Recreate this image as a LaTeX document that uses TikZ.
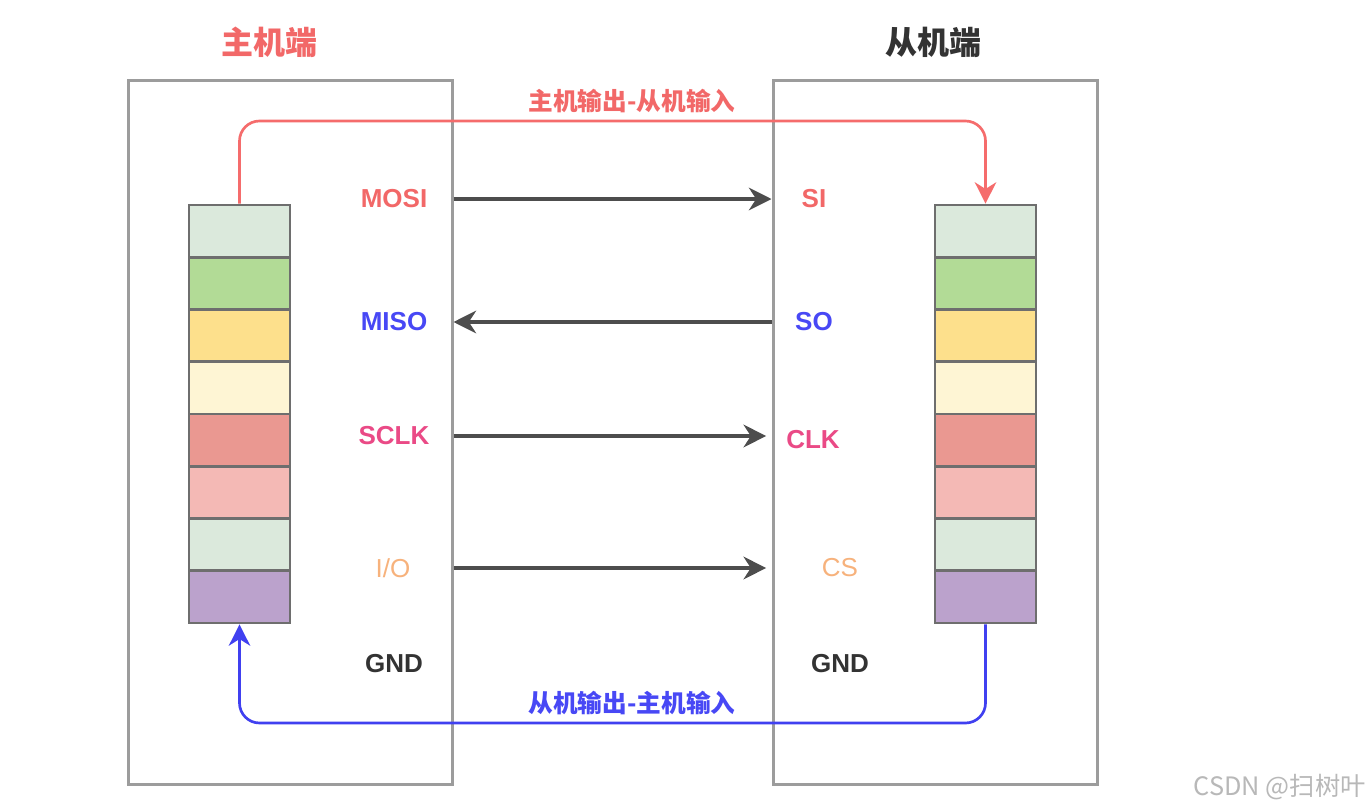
\documentclass[tikz,border=0pt]{standalone}
\usepackage{fontspec}
\setmainfont{Liberation Sans}
\newfontfamily\cjk{Noto Sans CJK SC}
\usetikzlibrary{arrows.meta}
\definecolor{cA}{HTML}{DBE9DC}
\definecolor{cB}{HTML}{B2DB96}
\definecolor{cC}{HTML}{FDE08C}
\definecolor{cD}{HTML}{FEF5D4}
\definecolor{cE}{HTML}{EA9891}
\definecolor{cF}{HTML}{F4B9B5}
\definecolor{cH}{HTML}{BBA2CC}
\definecolor{boxgray}{HTML}{9C9C9C}
\definecolor{cellborder}{HTML}{6E6E6E}
\definecolor{dark}{HTML}{4D4D4D}
\definecolor{tred}{HTML}{F26868}
\definecolor{tblue}{HTML}{4848F5}
\definecolor{tpink}{HTML}{EA4A86}
\definecolor{torange}{HTML}{F7B27C}
\definecolor{tgnd}{HTML}{333333}
\definecolor{lred}{HTML}{F56C6C}
\definecolor{lblue}{HTML}{4040F0}
\definecolor{wm}{HTML}{B8B8B8}
\tikzset{
  outerbox/.style={draw=boxgray, line width=2.25pt, fill=none, minimum width=243pt, minimum height=528pt, inner sep=0pt},
  cell/.style={draw=cellborder, line width=2pt, minimum width=75.75pt, minimum height=39.2pt, inner sep=0pt},
  lab/.style={font=\bfseries\fontsize{19.5}{22}\selectfont, inner sep=0pt},
  title/.style={font=\cjk\bfseries\fontsize{24}{26}\selectfont, inner sep=0pt},
  clab/.style={font=\cjk\bfseries\fontsize{18.5}{20}\selectfont, inner sep=0pt},
  blk/.style={draw=dark, line width=2.4pt, -{Stealth[length=17pt,width=17pt,inset=5.5pt]}},
  redline/.style={draw=lred, line width=2pt, rounded corners=15pt, -{Stealth[length=16pt,width=16pt,inset=5pt]}},
  blueline/.style={draw=lblue, line width=2pt, rounded corners=15pt, -{Stealth[length=16pt,width=16pt,inset=5pt]}}
}
\begin{document}
\begin{tikzpicture}[x=0.75pt,y=-0.75pt]
\useasboundingbox[fill=white] (0,0) rectangle (1366,810);
% outer boxes
\node[outerbox] (lbox) at (290,432) {};
\node[outerbox] (rbox) at (935,432) {};
% titles
\node[title, text=tred] (ltitle) at (269,42) {主机端};
\node[title, text=tgnd] (rtitle) at (933,42) {从机端};
% register stacks
\foreach \c [count=\i] in {cA,cB,cC,cD,cE,cF,cA,cH} {
  \node[cell, fill=\c] (l\i) at (239.5,{205+52.25*(\i-0.5)}) {};
  \node[cell, fill=\c] (r\i) at (985.5,{205+52.25*(\i-0.5)}) {};
}
% pin labels
\node[lab, text=tred] (mosi) at (394,199) {MOSI};
\node[lab, text=tblue] (miso) at (394,322) {MISO};
\node[lab, text=tpink] (sclk) at (394,436) {SCLK};
\node[lab, text=torange, font=\fontsize{19.5}{22}\selectfont] (io) at (393,568) {I/O};
\node[lab, text=tgnd] (gndl) at (394,664) {GND};
\node[lab, text=tred] (si) at (814,199) {SI};
\node[lab, text=tblue] (so) at (814,322) {SO};
\node[lab, text=tpink] (clk) at (813,440) {CLK};
\node[lab, text=torange, font=\fontsize{19.5}{22}\selectfont] (cs) at (840,568) {CS};
\node[lab, text=tgnd] (gndr) at (840,664) {GND};
% signal arrows
\draw[blk] (lbox.east |- mosi) -- (rbox.west |- mosi);
\draw[blk] (rbox.west |- miso) -- (lbox.east |- miso);
\draw[blk] (lbox.east |- sclk) -- ([xshift=-4pt]rbox.west |- sclk);
\draw[blk] (lbox.east |- io) -- ([xshift=-4pt]rbox.west |- io);
% data paths
\coordinate (toprow) at (0,121);
\coordinate (botrow) at (0,723);
\draw[redline] (l1.north) -- (l1.north |- toprow) -- (r1.north |- toprow) -- (r1.north);
\draw[blueline] (r8.south) -- (r8.south |- botrow) -- (l8.south |- botrow) -- (l8.south);
\node[clab, text=tred] (outlab) at (632,101) {主机输出-从机输入};
\node[clab, text=tblue] (inlab) at (632,703) {从机输出-主机输入};
% watermark
\node[font=\cjk\fontsize{19}{21}\selectfont, text=wm, anchor=east, inner sep=0pt] (mark) at (1366,787) {CSDN @扫树叶};
\end{tikzpicture}
\end{document}
